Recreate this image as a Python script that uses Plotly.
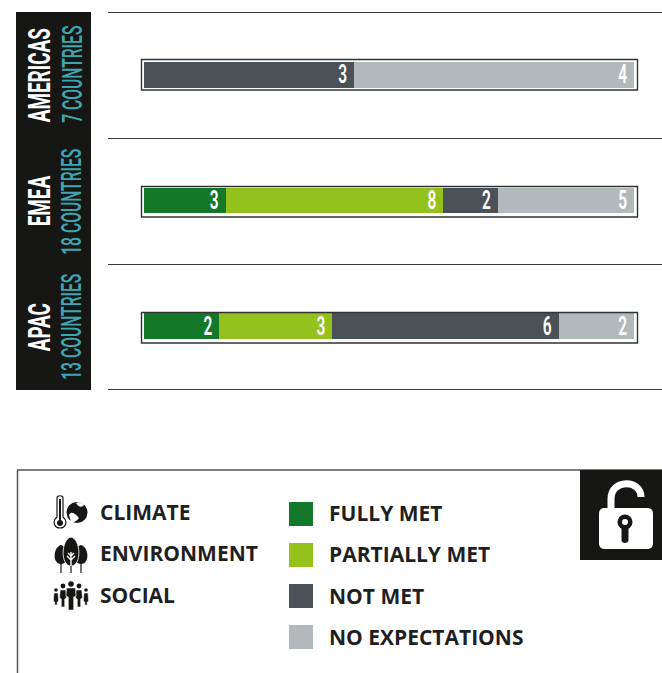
import re
import plotly.graph_objects as go

W, H = 662, 673

regions = ["AMERICAS", "EMEA", "APAC"]
countries = ["7 COUNTRIES", "18 COUNTRIES", "13 COUNTRIES"]
statuses = ["FULLY MET", "PARTIALLY MET", "NOT MET", "NO EXPECTATIONS"]
fully_met = [0, 3, 2]
partially_met = [0, 8, 3]
not_met = [3, 2, 6]
no_expectations = [4, 5, 2]
themes = ["CLIMATE", "ENVIRONMENT", "SOCIAL"]

series = [fully_met, partially_met, not_met, no_expectations]
colors = ["#137829", "#95c11c", "#4a5157", "#b1b9ba"]
BLACK = "#161615"
TEAL = "#3ea6b2"
COND = "Roboto"
SANS = "Open Sans"


def X(p):
    return p / W


def Y(p):
    return 1 - p / H


def path(d):
    """Convert an SVG path in pixel coordinates to paper coordinates."""
    toks = re.findall(r"[MLCZ]|-?\d+\.?\d*", d)
    out, i = [], 0
    for t in toks:
        if t in "MLCZ":
            out.append(t)
        else:
            out.append(f"{X(float(t)) if i % 2 == 0 else Y(float(t)):.5f}")
            i += 1
    return " ".join(out)


shapes = []


def rect(x0, y0, x1, y1, fill="rgba(0,0,0,0)", line=None, lw=0):
    shapes.append(dict(type="rect", xref="paper", yref="paper", x0=X(x0), x1=X(x1), y0=Y(y0), y1=Y(y1),
                       fillcolor=fill, line=dict(color=line or fill, width=lw), layer="above"))


def circ(cx, cy, r, fill=BLACK):
    shapes.append(dict(type="circle", xref="paper", yref="paper", x0=X(cx - r), x1=X(cx + r), y0=Y(cy - r),
                       y1=Y(cy + r), fillcolor=fill, line=dict(width=0), layer="above"))


def poly(d, fill=BLACK, line=None, lw=0):
    shapes.append(dict(type="path", xref="paper", yref="paper", path=path(d),
                       fillcolor=fill, line=dict(color=line or fill, width=lw), layer="above"))


def hline(x0, x1, y, color="#3a3a3a", lw=1.2):
    shapes.append(dict(type="line", xref="paper", yref="paper", x0=X(x0), x1=X(x1), y0=Y(y), y1=Y(y),
                       line=dict(color=color, width=lw), layer="above"))


# left panel, separators, frames round the bars
rect(16, 12, 91, 390, BLACK)
for y in (12.5, 138.5, 264.5, 389.5):
    hline(108, 662, y)
for y0 in (59.5, 186.5, 312.5):
    rect(141.5, y0, 637.5, y0 + 30.5, line="#333333", lw=1.4)

# legend box
hline(17, 662, 470, "#555555", 1.5)
shapes.append(dict(type="line", xref="paper", yref="paper", x0=X(17.5), x1=X(17.5), y0=Y(470), y1=0,
                   line=dict(color="#555555", width=1.5), layer="above"))
for y0, c in zip((502, 543, 584, 625), colors):
    rect(289, y0, 313, y0 + 24, c)

# lock
rect(580, 470, 662, 560, BLACK)
poly("M 599 514 C 599 510 601 508 605 508 L 647 508 C 651 508 653 510 653 514 L 653 543 C 653 547 651 549 647 549 "
     "L 605 549 C 601 549 599 547 599 543 Z", "#ffffff")
poly("M 611 509 L 611 499 C 611 479 641 479 641 497", "rgba(0,0,0,0)", "#ffffff", 7)
circ(625, 522, 7.5, BLACK)
poly("M 621.5 525 L 628.5 525 L 628.5 540 C 628.5 544 621.5 544 621.5 540 Z", BLACK)
circ(625, 522, 3, "#ffffff")

# climate icon
poly("M 57 498 C 57 495 63 495 63 498 L 63 517 C 68 521 66 528 60 528 C 54 528 52 521 57 517 Z", "#ffffff", BLACK, 1.2)
rect(59, 499, 61, 522, BLACK)
circ(60, 523, 3, BLACK)
circ(77, 512.5, 10.5, BLACK)
poly("M 69 515 C 72 510 76 515 79 518 C 77 521 73 523 71 522 Z", "#ffffff")
poly("M 76 503 C 79 501 83 503 84 505 C 82 508 78 507 76 503 Z", "#ffffff")

# environment icon
for cx, top, w, bot, stem in ((61, 545, 8, 564, 572), (81, 545, 8, 564, 572), (71, 537, 10, 566, 572)):
    poly(f"M {cx} {top} C {cx + w} {top + 2} {cx + w + 1} {bot} {cx} {bot} C {cx - w - 1} {bot} {cx - w} {top + 2} {cx} {top} Z",
         BLACK, "#ffffff" if cx == 71 else BLACK, 0.8 if cx == 71 else 0)
    rect(cx - 0.6, bot - 2, cx + 0.6, stem + 1, BLACK)
poly("M 71 552 L 71 566 M 71 560 L 67 556 M 71 560 L 75 556 M 71 556 L 68 553 M 71 556 L 74 553",
     "rgba(0,0,0,0)", "#ffffff", 1.4)

# social icon
for cx, cy, r, w, top, bot in ((56, 590, 1.8, 2.0, 593, 605), (86, 590, 1.8, 2.0, 593, 605),
                              (63, 586, 2.4, 2.8, 590, 607), (79, 586, 2.4, 2.8, 590, 607),
                              (71, 584, 2.8, 4.4, 588, 610)):
    circ(cx, cy, r)
    poly(f"M {cx - w} {top} L {cx + w} {top} L {cx + w + 0.6} {top + 8} L {cx + w * 0.6} {top + 9} L {cx + w * 0.6} {bot} "
         f"L {cx - w * 0.6} {bot} L {cx - w * 0.6} {top + 9} L {cx - w - 0.6} {top + 8} Z", BLACK, "#ffffff", 0.5)

fig = go.Figure()
for name, vals, c in zip(statuses, series, colors):
    fig.add_trace(go.Bar(
        y=regions, x=vals, name=name, orientation="h", marker=dict(color=c, line=dict(width=0)),
        text=[str(v) if v else "" for v in vals], textposition="inside", insidetextanchor="end",
        textangle=0, constraintext="none", cliponaxis=False,
        textfont=dict(family=COND, size=25, weight=600, color="#ffffff"), hoverinfo="x+y",
    ))

annotations = []
for r, c, yc, yc2 in zip(regions, countries, (75, 201, 327), (74, 201.5, 326.5)):
    annotations.append(dict(text=f"<b>{r}</b>", xref="paper", yref="paper", x=X(39), y=Y(yc), textangle=-90,
                            showarrow=False, xanchor="center", yanchor="middle",
                            font=dict(family=COND, size=32, color="#ffffff")))
    annotations.append(dict(text=c, xref="paper", yref="paper", x=X(72), y=Y(yc2), textangle=-90,
                            showarrow=False, xanchor="center", yanchor="middle",
                            font=dict(family=COND, size=28, weight=500, color=TEAL)))
for t, y in zip(themes, (512, 553, 595)):
    annotations.append(dict(text=f"<b>{t}</b>", xref="paper", yref="paper", x=X(98), y=Y(y), showarrow=False,
                            xanchor="left", yanchor="middle", font=dict(family=SANS, size=21, color="#1f1f1f")))
for t, y in zip(statuses, (513, 554, 596, 637)):
    annotations.append(dict(text=f"<b>{t}</b>", xref="paper", yref="paper", x=X(327), y=Y(y), showarrow=False,
                            xanchor="left", yanchor="middle", font=dict(family=SANS, size=21, color="#1f1f1f")))

fig.update_layout(
    width=W, height=H, margin=dict(l=0, r=0, t=0, b=0), paper_bgcolor="#ffffff", plot_bgcolor="#ffffff",
    barmode="stack", barnorm="fraction", bargap=0.797, showlegend=False,
    xaxis=dict(domain=[X(144), X(634)], range=[0, 1], visible=False, fixedrange=True),
    yaxis=dict(domain=[Y(389), Y(12)], categoryorder="array", categoryarray=regions, range=[2.5, -0.5],
               visible=False, fixedrange=True),
    shapes=shapes, annotations=annotations,
)

# The reference type is a condensed face that is not installed: narrow the real text elements instead.
POST = """
document.body.style.margin='0';document.documentElement.style.overflow='hidden';
function squeeze(el, sx, anchorEnd, dx){
  var b=el.getBBox(), cx=anchorEnd? b.x+b.width : b.x+b.width/2, cy=b.y+b.height/2;
  var old=el.getAttribute('transform')||'';
  el.setAttribute('transform', old+' translate('+(cx+dx)+' '+cy+') scale('+sx+' 1) translate('+(-cx)+' '+(-cy)+')');
}
document.querySelectorAll('.annotation-text-g text').forEach(function(t){
  var s=t.textContent;
  if(s.indexOf('COUNTRIES')>=0){ squeeze(t,0.56,false,0); }
  else if(s==='AMERICAS'||s==='EMEA'||s==='APAC'){ squeeze(t,0.59,false,0); }
});
document.querySelectorAll('.bars .bartext text, text.bartext').forEach(function(t){ squeeze(t,0.62,true,-4); });
"""
fig.write_html("out.html", config=dict(displayModeBar=False), post_script=POST)
